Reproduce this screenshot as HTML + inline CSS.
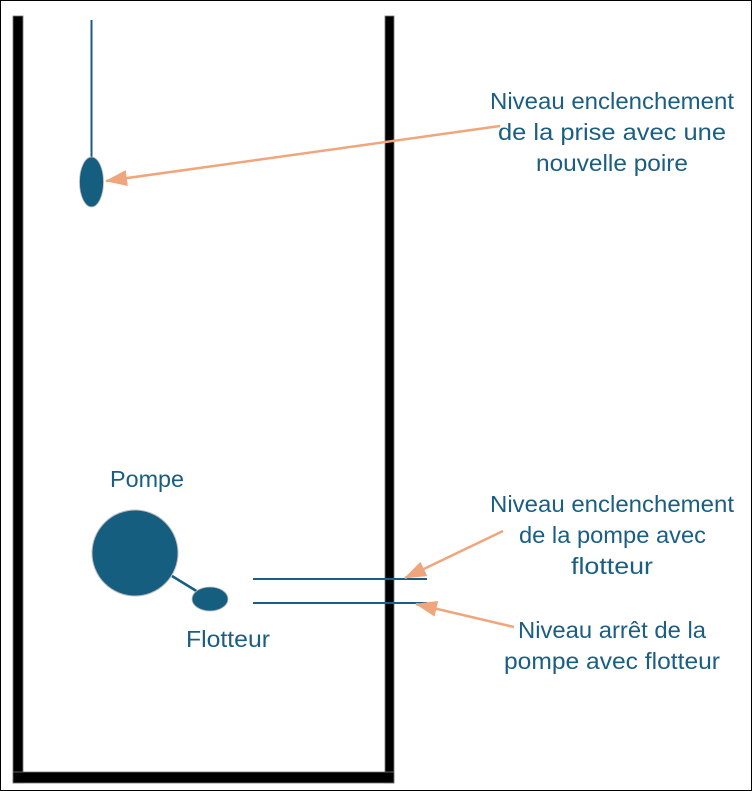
<!DOCTYPE html>
<html><head><meta charset="utf-8"><style>
html,body{margin:0;padding:0;background:#fff}
svg{display:block}
text{font-family:"Liberation Sans",sans-serif;font-size:23px;fill:#1a5e82}
</style></head><body>
<svg width="752" height="791" viewBox="0 0 752 791" xmlns="http://www.w3.org/2000/svg">
<defs>
<marker id="ah2" markerWidth="22" markerHeight="16" refX="21" refY="8" orient="auto" markerUnits="userSpaceOnUse" viewBox="0 0 22 16">
<path d="M0,0 L22,8 L0,16 z" fill="#f0a67c"/>
</marker>
</defs>
<rect x="0.5" y="0.5" width="751" height="790" fill="#fff" stroke="#000" stroke-width="1"/>
<rect x="13" y="16" width="10" height="767" fill="#000" stroke="#777" stroke-width="0.8"/>
<rect x="385" y="16" width="9" height="767" fill="#000" stroke="#777" stroke-width="0.8"/>
<rect x="13" y="772" width="381" height="11" fill="#000" stroke="#777" stroke-width="0.8"/>
<line x1="91.5" y1="20" x2="91.5" y2="160" stroke="#1a5e82" stroke-width="2"/>
<ellipse cx="91.5" cy="182" rx="12" ry="25" fill="#165e80" stroke="#bbb" stroke-width="0.8"/>
<line x1="172" y1="576" x2="198" y2="592" stroke="#165e80" stroke-width="2.5"/>
<circle cx="135" cy="553" r="43" fill="#165e80" stroke="#bbb" stroke-width="1"/>
<ellipse cx="210" cy="599" rx="18" ry="12" fill="#165e80" stroke="#bbb" stroke-width="0.8"/>
<line x1="253" y1="579" x2="427" y2="579" stroke="#1a5e82" stroke-width="2"/>
<line x1="253" y1="603" x2="427" y2="603" stroke="#1a5e82" stroke-width="2"/>
<line x1="500" y1="126" x2="106" y2="181" stroke="#f0a67c" stroke-width="2.5" marker-end="url(#ah2)"/>
<line x1="503" y1="531" x2="405" y2="578" stroke="#f0a67c" stroke-width="2.5" marker-end="url(#ah2)"/>
<line x1="514" y1="627" x2="416" y2="604" stroke="#f0a67c" stroke-width="2.5" marker-end="url(#ah2)"/>
<text x="490" y="109" textLength="244" lengthAdjust="spacingAndGlyphs">Niveau enclenchement</text>
<text x="498" y="140" textLength="228" lengthAdjust="spacingAndGlyphs">de la prise avec une</text>
<text x="536" y="171" textLength="152" lengthAdjust="spacingAndGlyphs">nouvelle poire</text>
<text x="110" y="487" textLength="74" lengthAdjust="spacingAndGlyphs">Pompe</text>
<text x="186" y="647" textLength="84" lengthAdjust="spacingAndGlyphs">Flotteur</text>
<text x="490" y="512" textLength="244" lengthAdjust="spacingAndGlyphs">Niveau enclenchement</text>
<text x="519" y="543" textLength="187" lengthAdjust="spacingAndGlyphs">de la pompe avec</text>
<text x="571" y="574" textLength="82" lengthAdjust="spacingAndGlyphs">flotteur</text>
<text x="518" y="638" textLength="188" lengthAdjust="spacingAndGlyphs">Niveau arrêt de la</text>
<text x="504" y="669" textLength="216" lengthAdjust="spacingAndGlyphs">pompe avec flotteur</text>
</svg>
</body></html>
